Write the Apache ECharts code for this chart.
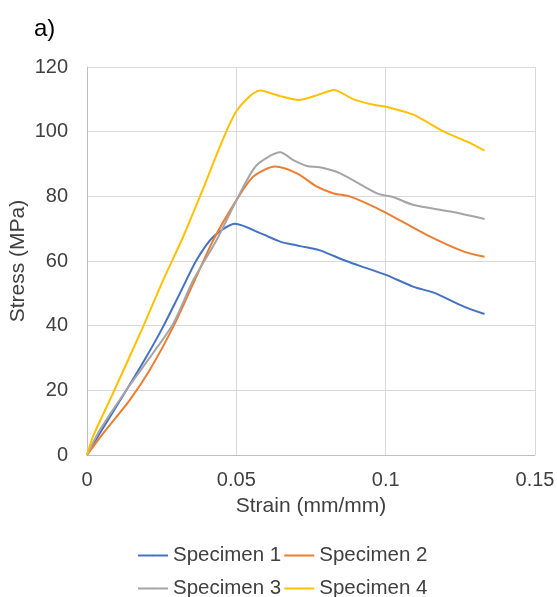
<!DOCTYPE html>
<html>
<head>
<meta charset="utf-8">
<script src="https://cdn.jsdelivr.net/npm/echarts@6/dist/echarts.min.js"></script>
<style>
  html, body { margin: 0; padding: 0; background: #fff; }
  #main { width: 557px; height: 597px; }
</style>
</head>
<body>
<div id="main"></div>
<script>
  // strain (mm/mm), stress (MPa)
  var spec1 = [[0,0],[0.0043,6.7],[0.0132,20.1],[0.0199,30.4],[0.0255,39.7],[0.0311,50],[0.0367,60.3],
    [0.0423,67.5],[0.0496,71.5],[0.058,68.6],[0.0647,66],[0.0714,64.6],[0.078,63.3],[0.0859,60.3],
    [0.0904,58.8],[0.1001,55.7],[0.1094,52],[0.1161,50.2],[0.1262,45.9],[0.1331,43.6]];
  var spec2 = [[0,0],[0.0054,6.7],[0.0143,17],[0.021,26.3],[0.0289,39.7],[0.0356,53.1],[0.0423,66.5],
    [0.0501,78.9],[0.0557,86.1],[0.063,89.2],[0.0703,87.1],[0.077,83],[0.0826,80.9],[0.0882,79.9],
    [0.0993,75.3],[0.1139,68],[0.1262,62.9],[0.1331,61.3]];
  var spec3 = [[0,0],[0.0043,7.7],[0.0132,20.1],[0.0221,31.5],[0.0289,40.7],[0.0356,54.1],[0.0434,66.5],
    [0.0512,80.9],[0.0568,89.6],[0.0647,93.6],[0.0691,91.2],[0.0736,89.4],[0.078,89],[0.0848,87.1],
    [0.0971,80.9],[0.1027,79.7],[0.1094,77.3],[0.1217,75.3],[0.1331,73]];
  var spec4 = [[0,0],[0.002,5.7],[0.0087,19.1],[0.0188,39.7],[0.0255,54.1],[0.0322,67.5],[0.0378,79.9],
    [0.0496,105.7],[0.058,112.7],[0.0647,111],[0.0708,109.8],[0.078,111.6],[0.0826,112.9],[0.0893,110],
    [0.096,108.3],[0.1001,107.7],[0.1094,105.2],[0.1195,100],[0.1273,96.9],[0.1331,94.1]];

  var names = ['Specimen 1', 'Specimen 2', 'Specimen 3', 'Specimen 4'];
  var colors = ['#4472C4', '#ED7D31', '#A5A5A5', '#FFC000'];
  var xTicks = [0, 0.05, 0.1, 0.15];

  var chart = echarts.init(document.getElementById('main'));
  var font = '"Liberation Sans", Arial, sans-serif';
  var txt = '#404040';

  function line(i, data) {
    return {
      name: names[i],
      type: 'line',
      data: data,
      symbol: 'none',
      smooth: 0.25,
      lineStyle: { width: 2, color: colors[i] },
      itemStyle: { color: colors[i] }
    };
  }

  var legendBase = {
    left: 132,
    itemWidth: 30,
    itemHeight: 2,
    itemGap: 2,
    textStyle: { fontFamily: font, fontSize: 20.5, color: txt }
  };

  var option = {
    animation: false,
    color: colors,
    title: {
      text: 'a)', left: 29, top: 12,
      textStyle: { fontFamily: font, fontSize: 24, fontWeight: 'normal', color: '#000' }
    },
    legend: [
      Object.assign({}, legendBase, { top: 540, data: names.slice(0, 2) }),
      Object.assign({}, legendBase, { top: 573, data: names.slice(2, 4) })
    ],
    grid: { left: 87, right: 22, top: 67, bottom: 142, containLabel: false, outerBoundsMode: 'none' },
    xAxis: {
      type: 'value', min: 0, max: 0.15, interval: 0.05,
      name: 'Strain (mm/mm)', nameLocation: 'middle', nameGap: 41, nameMoveOverlap: false,
      nameTextStyle: { fontFamily: font, fontSize: 21, color: txt },
      axisLine: { show: true, lineStyle: { color: '#bfbfbf', width: 1 } },
      axisTick: { show: false },
      axisLabel: {
        fontFamily: font, fontSize: 20, color: txt, margin: 15,
        formatter: function (v) { return xTicks.indexOf(+v.toFixed(2)) >= 0 ? String(+v.toFixed(2)) : ''; }
      },
      splitLine: { show: true, lineStyle: { color: '#d9d9d9', width: 1 } }
    },
    yAxis: {
      type: 'value', min: 0, max: 120, interval: 20,
      name: 'Stress (MPa)', nameLocation: 'middle', nameGap: 58, nameRotate: 90, nameMoveOverlap: false,
      nameTextStyle: { fontFamily: font, fontSize: 21, color: txt },
      axisLine: { show: true, lineStyle: { color: '#bfbfbf', width: 1 } },
      axisTick: { show: false },
      axisLabel: { fontFamily: font, fontSize: 20, color: txt, margin: 19 },
      splitLine: { show: true, lineStyle: { color: '#d9d9d9', width: 1 } }
    },
    series: [line(0, spec1), line(1, spec2), line(2, spec3), line(3, spec4)]
  };
  chart.setOption(option);
</script>
</body>
</html>
